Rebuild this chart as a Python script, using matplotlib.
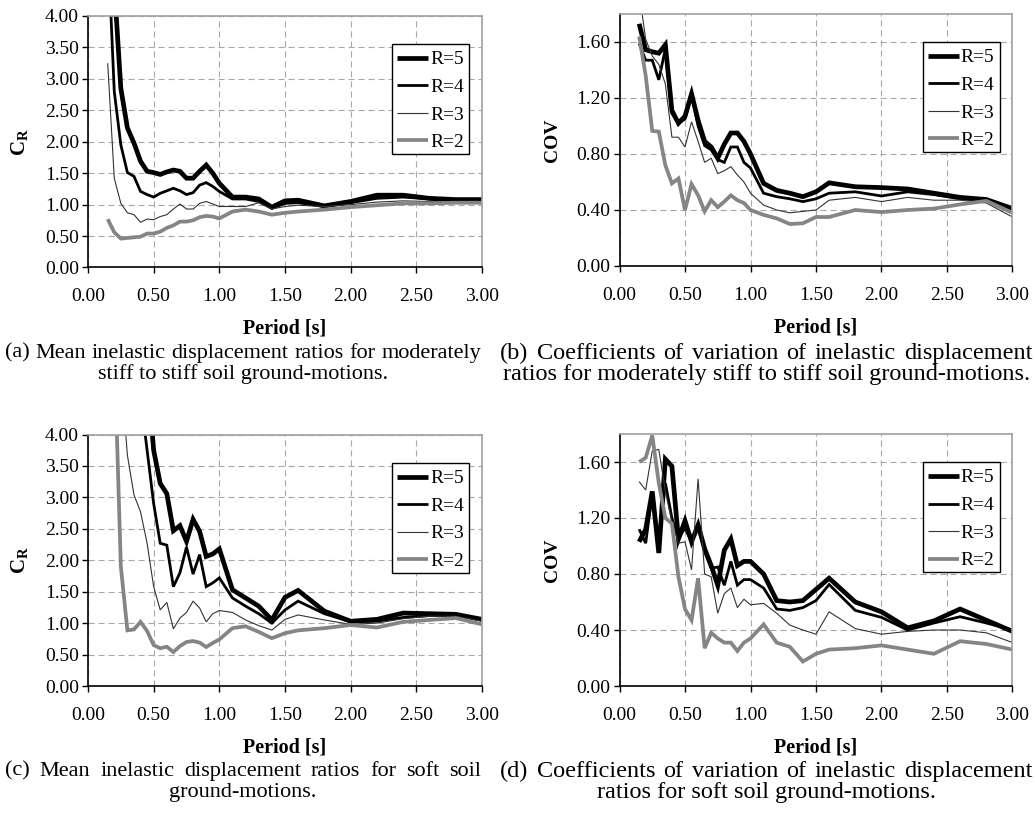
import matplotlib
matplotlib.use("Agg")
import matplotlib.pyplot as plt
from matplotlib.ticker import MultipleLocator, FormatStrFormatter
from matplotlib.lines import Line2D
from matplotlib.patches import Rectangle

plt.rcParams['font.family'] = ['Liberation Serif', 'DejaVu Serif']
plt.rcParams['mathtext.fontset'] = 'custom'
plt.rcParams['mathtext.bf'] = 'Liberation Serif:bold'
plt.rcParams['mathtext.rm'] = 'Liberation Serif'

# ---------------- data ----------------
periods = [0.15, 0.20, 0.25, 0.30, 0.35, 0.40, 0.45, 0.50, 0.55, 0.60,
           0.65, 0.70, 0.75, 0.80, 0.85, 0.90, 0.95, 1.00,
           1.1, 1.2, 1.3, 1.4, 1.5, 1.6,
           1.8, 2.0, 2.2, 2.4, 2.6, 2.8, 3.0]

series_names = ["R=5", "R=4", "R=3", "R=2"]

# (a) mean C_R, moderately stiff to stiff soil
a_r5 = [7.0, 4.5, 2.85, 2.22, 1.98, 1.69, 1.53, 1.51, 1.48, 1.52, 1.55, 1.53, 1.42, 1.42, 1.53, 1.63, 1.50, 1.34,
        1.12, 1.12, 1.09, 0.96, 1.06, 1.07, 0.98, 1.05, 1.15, 1.15, 1.10, 1.08, 1.08]
a_r4 = [5.2, 2.8, 1.95, 1.51, 1.45, 1.21, 1.16, 1.12, 1.18, 1.22, 1.26, 1.22, 1.16, 1.19, 1.31, 1.35, 1.29, 1.21,
        1.09, 1.09, 1.05, 0.94, 1.02, 1.03, 0.97, 1.03, 1.10, 1.12, 1.09, 1.07, 1.07]
a_r3 = [3.25, 1.42, 1.02, 0.87, 0.84, 0.72, 0.77, 0.76, 0.81, 0.84, 0.93, 1.01, 0.93, 0.93, 1.02, 1.05, 1.01, 0.97,
        0.97, 0.97, 1.03, 0.93, 0.97, 0.99, 0.97, 1.00, 1.04, 1.06, 1.05, 1.05, 1.05]
a_r2 = [0.77, 0.56, 0.46, 0.47, 0.48, 0.49, 0.54, 0.54, 0.57, 0.63, 0.67, 0.73, 0.73, 0.75, 0.80, 0.82, 0.81, 0.78,
        0.89, 0.92, 0.89, 0.84, 0.87, 0.89, 0.92, 0.96, 0.99, 1.02, 1.02, 1.03, 1.03]

# (b) COV, moderately stiff to stiff soil
b_r5 = [1.73, 1.545, 1.53, 1.52, 1.58, 1.11, 1.02, 1.07, 1.23, 1.04, 0.89, 0.85, 0.77, 0.87, 0.95, 0.95, 0.89, 0.80,
        0.59, 0.54, 0.52, 0.495, 0.53, 0.594, 0.566, 0.56, 0.55, 0.52, 0.49, 0.475, 0.41]
b_r4 = [1.59, 1.47, 1.47, 1.33, 1.55, 1.09, 1.02, 1.05, 1.22, 1.00, 0.86, 0.83, 0.76, 0.74, 0.85, 0.85, 0.74, 0.70,
        0.52, 0.495, 0.48, 0.46, 0.48, 0.52, 0.53, 0.50, 0.53, 0.51, 0.48, 0.47, 0.40]
b_r3 = [1.95, 1.62, 1.50, 1.44, 1.30, 0.92, 0.92, 0.85, 1.03, 0.89, 0.74, 0.77, 0.66, 0.68, 0.71, 0.65, 0.60, 0.52,
        0.435, 0.40, 0.38, 0.39, 0.40, 0.47, 0.49, 0.46, 0.49, 0.47, 0.47, 0.45, 0.35]
b_r2 = [1.64, 1.36, 0.965, 0.96, 0.72, 0.59, 0.625, 0.40, 0.585, 0.505, 0.39, 0.47, 0.42, 0.46, 0.505, 0.47, 0.45, 0.40,
        0.365, 0.34, 0.30, 0.305, 0.35, 0.35, 0.40, 0.385, 0.40, 0.41, 0.44, 0.465, 0.38]

# (c) mean C_R, soft soil
c_r5 = [12.0, 10.0, 8.5, 7.5, 6.5, 5.8, 5.0, 3.75, 3.22, 3.06, 2.47, 2.55, 2.30, 2.65, 2.46, 2.06, 2.10, 2.18,
        1.53, 1.40, 1.27, 1.05, 1.41, 1.52, 1.19, 1.03, 1.06, 1.16, 1.15, 1.14, 1.06]
c_r4 = [10.0, 8.5, 7.0, 6.0, 5.2, 4.6, 3.75, 2.90, 2.27, 2.24, 1.58, 1.80, 2.21, 1.78, 2.09, 1.58, 1.64, 1.72,
        1.40, 1.27, 1.15, 1.00, 1.21, 1.35, 1.15, 1.02, 1.03, 1.09, 1.12, 1.12, 1.06]
c_r3 = [8.0, 6.5, 5.0, 3.67, 3.04, 2.77, 2.27, 1.58, 1.21, 1.33, 0.91, 1.08, 1.17, 1.35, 1.24, 1.02, 1.15, 1.20,
        1.17, 1.05, 0.96, 0.89, 1.06, 1.13, 1.05, 0.98, 1.00, 1.07, 1.11, 1.11, 1.03]
c_r2 = [7.0, 5.4, 1.9, 0.885, 0.90, 1.02, 0.875, 0.65, 0.60, 0.625, 0.54, 0.635, 0.70, 0.715, 0.69, 0.62, 0.685, 0.74,
        0.92, 0.95, 0.86, 0.76, 0.84, 0.885, 0.92, 0.97, 0.93, 1.02, 1.05, 1.08, 0.98]

# (d) COV, soft soil
d_r5 = [1.03, 1.12, 1.39, 0.95, 1.62, 1.57, 1.05, 1.18, 1.03, 1.15, 0.98, 0.86, 0.72, 0.97, 1.05, 0.86, 0.89, 0.89,
        0.80, 0.61, 0.60, 0.61, 0.69, 0.77, 0.60, 0.53, 0.415, 0.465, 0.55, 0.47, 0.39]
d_r4 = [1.12, 1.02, 1.38, 1.00, 1.45, 1.20, 1.05, 1.13, 1.03, 1.15, 0.96, 0.84, 0.85, 0.72, 0.89, 0.72, 0.76, 0.76,
        0.70, 0.55, 0.54, 0.56, 0.61, 0.725, 0.54, 0.49, 0.40, 0.45, 0.495, 0.45, 0.40]
d_r3 = [1.46, 1.40, 1.68, 1.69, 1.39, 1.17, 1.02, 1.03, 0.83, 1.48, 0.80, 0.78, 0.52, 0.66, 0.70, 0.56, 0.62, 0.58,
        0.59, 0.52, 0.435, 0.40, 0.37, 0.53, 0.41, 0.37, 0.39, 0.40, 0.40, 0.38, 0.31]
d_r2 = [1.60, 1.63, 1.79, 1.45, 1.20, 1.16, 0.78, 0.55, 0.47, 0.77, 0.27, 0.38, 0.34, 0.31, 0.31, 0.25, 0.31, 0.34,
        0.44, 0.31, 0.28, 0.175, 0.23, 0.26, 0.27, 0.29, 0.26, 0.23, 0.32, 0.30, 0.26]

captions = {
    "a": ["(a) Mean inelastic displacement ratios for moderately",
          "stiff to stiff soil ground-motions."],
    "b": ["(b) Coefficients of variation of inelastic displacement",
          "ratios for moderately stiff to stiff soil ground-motions."],
    "c": ["(c) Mean inelastic displacement ratios for soft soil",
          "ground-motions."],
    "d": ["(d) Coefficients of variation of inelastic displacement",
          "ratios for soft soil ground-motions."],
}

# ---------------- styling ----------------
W, H = 1035, 813
fig = plt.figure(figsize=(W / 100, H / 100), dpi=100)

styles = [dict(color="black", lw=3.4),
          dict(color="black", lw=2.0),
          dict(color="#333333", lw=0.8),
          dict(color="#858585", lw=2.7)]

TICK_FS = 14
XLAB_FS = 14.5
LEG_FS = 14


def fx(x):
    return x / W


def fy(y):
    return 1 - y / H


def px_axes(x0, y0, x1, y1):
    return fig.add_axes([fx(x0), fy(y1), (x1 - x0) / W, (y1 - y0) / H])


boxes = {"a": (88, 16, 482, 267.5), "b": (619.5, 14, 1012.5, 266),
         "c": (88, 434.5, 482, 686), "d": (619.5, 434, 1012.5, 686)}


def setup(ax, ymax, ystep):
    ax.set_xlim(0, 3.0)
    ax.set_ylim(0, ymax)
    ax.xaxis.set_major_locator(MultipleLocator(0.5))
    ax.yaxis.set_major_locator(MultipleLocator(ystep))
    ax.xaxis.set_major_formatter(FormatStrFormatter('%.2f'))
    ax.yaxis.set_major_formatter(FormatStrFormatter('%.2f'))
    ax.grid(True, color="#a8a8a8", lw=0.8, linestyle=(0, (5.5, 3.5)))
    ax.set_axisbelow(True)
    for s in ("top", "right"):
        ax.spines[s].set_color("#a0a0a0")
        ax.spines[s].set_linewidth(1.2)
    for s in ("left", "bottom"):
        ax.spines[s].set_color("black")
        ax.spines[s].set_linewidth(1.2)
    ax.tick_params(axis="x", direction="out", length=4, width=1, pad=11, labelsize=TICK_FS)
    ax.tick_params(axis="y", direction="out", length=4, width=1, pad=2.5, labelsize=TICK_FS)


def plot_panel(ax, data):
    for name, vals, st in zip(series_names, data, styles):
        ax.plot(periods, vals, label=name, solid_joinstyle="miter",
                solid_capstyle="butt", **st)


def legend_box(key):
    x0, y0, x1, y1 = boxes[key]
    lx1 = x1 - 13
    lx0 = lx1 - 77
    ly0 = y0 + 28
    ly1 = ly0 + 110
    fig.add_artist(Rectangle((fx(lx0), fy(ly1)), (lx1 - lx0) / W, (ly1 - ly0) / H,
                             transform=fig.transFigure, facecolor="white",
                             edgecolor="black", lw=1.0, zorder=5))
    for i, (name, st) in enumerate(zip(series_names, styles)):
        yy = ly0 + 14 + i * 27.5
        fig.add_artist(Line2D([fx(lx0 + 5), fx(lx0 + 36)], [fy(yy), fy(yy)],
                              transform=fig.transFigure, zorder=6,
                              solid_capstyle="butt", **st))
        fig.text(fx(lx0 + 38), fy(yy), name, fontsize=LEG_FS, ha="left",
                 va="center_baseline", zorder=7)


axes = {}
for key in "abcd":
    axes[key] = px_axes(*boxes[key])

plot_panel(axes["a"], [a_r5, a_r4, a_r3, a_r2])
plot_panel(axes["b"], [b_r5, b_r4, b_r3, b_r2])
plot_panel(axes["c"], [c_r5, c_r4, c_r3, c_r2])
plot_panel(axes["d"], [d_r5, d_r4, d_r3, d_r2])

setup(axes["a"], 4.0, 0.5)
setup(axes["b"], 1.8, 0.4)
setup(axes["c"], 4.0, 0.5)
setup(axes["d"], 1.8, 0.4)

for key in "abcd":
    legend_box(key)

# y labels
ylabels = {"a": (r"$\mathbf{C_R}$", 20, 15), "b": ("COV", 553, 14),
           "c": (r"$\mathbf{C_R}$", 20, 15), "d": ("COV", 553, 14)}
for key, (txt, xc, fs) in ylabels.items():
    x0, y0, x1, y1 = boxes[key]
    fig.text(fx(xc), fy((y0 + y1) / 2), txt, rotation=90, ha="center", va="center",
             fontsize=fs, fontweight="bold")

# x labels
for key in "abcd":
    x0, y0, x1, y1 = boxes[key]
    fig.text(fx((x0 + x1) / 2), fy(y1 + 61), "Period [s]", ha="center", va="center",
             fontsize=XLAB_FS, fontweight="bold")

# ---------------- captions ----------------
renderer = fig.canvas.get_renderer()


def text_width(s, fs):
    t = fig.text(0, 0, s, fontsize=fs)
    w = t.get_window_extent(renderer).width
    t.remove()
    return w


def justified(line, x0, x1, y, fs):
    words = line.split()
    ws = [text_width(w, fs) for w in words]
    space = text_width("a a", fs) - text_width("aa", fs)
    gap = (x1 - x0 - sum(ws)) / (len(words) - 1)
    if gap < space:
        gap = space
        total = sum(ws) + gap * (len(words) - 1)
        x0 = (x0 + x1) / 2 - total / 2
    x = x0
    for w, wd in zip(words, ws):
        fig.text(fx(x), fy(y), w, fontsize=fs, ha="left", va="center")
        x += wd + gap


def centered(line, xc, y, fs):
    fig.text(fx(xc), fy(y), line, fontsize=fs, ha="center", va="center")


# column extents, first-line baseline y and font size per caption
cols = {"a": (5, 481, 353, 16), "b": (500, 1033, 353, 17.5),
        "c": (5, 481, 771, 16), "d": (500, 1033, 771, 17.5)}
for key, (x0, x1, y, fs) in cols.items():
    l1, l2 = captions[key]
    justified(l1, x0, x1, y, fs)
    centered(l2, (x0 + x1) / 2, y + 21, fs)

fig.savefig("out.png", dpi=100)
